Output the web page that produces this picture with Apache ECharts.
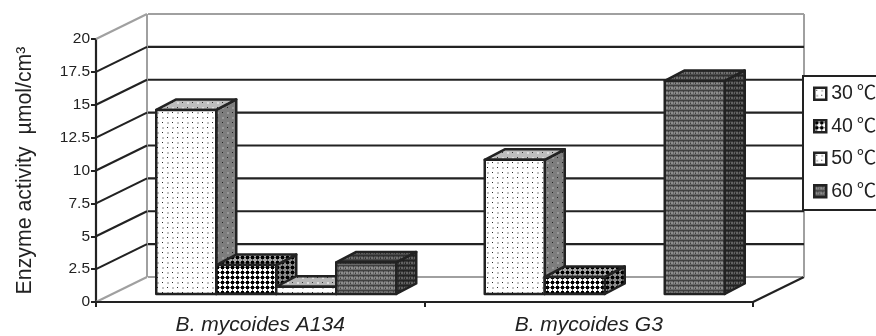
<!DOCTYPE html>
<html>
<head>
<meta charset="utf-8">
<style>
  html, body { margin: 0; padding: 0; background: #fff; overflow: hidden; }
  #chart { width: 876px; height: 336px; }
</style>
<script src="https://cdn.jsdelivr.net/npm/echarts@6/dist/echarts.min.js"></script>
</head>
<body>
<div id="chart"></div>
<script>
// data
var categories = ['B. mycoides A134', 'B. mycoides G3'];
var tempNames = ['30\u2009\u2103', '40\u2009\u2103', '50\u2009\u2103', '60\u2009\u2103'];
var values30 = [14.0, 10.2];
var values40 = [2.2, 1.3];
var values50 = [0.55, null];
var values60 = [2.4, 16.2];
var yTicks = [0, 2.5, 5, 7.5, 10, 12.5, 15, 17.5, 20];

var INK = '#222';
var WALL = '#a0a0a0';

// depth of the fake 3d box
var wallDx = 51, wallDy = -25;
var barDx = 20, barDy = -10.5;
var frontDx = 16, frontDy = -8;
var barW = 60;

// small tiled fill, dots = [x, y, w, h, colour]
function tile(size, bg, dots) {
    var c = document.createElement('canvas');
    c.width = size; c.height = size;
    var g = c.getContext('2d');
    g.fillStyle = bg;
    g.fillRect(0, 0, size, size);
    dots.forEach(function (d) {
        g.fillStyle = d[4];
        g.fillRect(d[0], d[1], d[2], d[3]);
    });
    return { image: c, repeat: 'repeat' };
}
function speckle(bg, dark, soft) {
    return tile(10, bg, [[2, 2, 1, 1, dark], [7, 7, 1, 1, dark], [7, 2, 2, 2, soft], [2, 7, 2, 2, soft]]);
}
function check(bg, fg, mid) {
    return tile(5, bg, [[1, 1, 3, 3, fg], [2, 0, 1, 1, mid], [2, 4, 1, 1, mid], [0, 2, 1, 1, mid], [4, 2, 1, 1, mid]]);
}
function mottled(bg, light, dark) {
    return tile(5, bg, [[0, 0, 5, 1, dark], [1, 2, 2, 2, light], [4, 2, 1, 2, light], [0, 3, 1, 1, dark], [3, 1, 1, 1, dark]]);
}

var faces = [
    { front: speckle('#fff', '#222', '#c4c4c4'), side: speckle('#7d7d7d', '#222', '#999'), top: speckle('#bdbdbd', '#333', '#ddd') },
    { front: check('#fff', '#000', '#555'), side: check('#8a8a8a', '#000', '#444'), top: check('#a8a8a8', '#000', '#555') },
    { front: speckle('#fff', '#222', '#c4c4c4'), side: speckle('#7d7d7d', '#222', '#999'), top: speckle('#b5b5b5', '#333', '#ddd') },
    { front: mottled('#686868', '#8e8e8e', '#404040'), side: mottled('#383838', '#626262', '#222'), top: mottled('#4a4a4a', '#707070', '#303030') }
];

function wallItem(params, api) {
    var v = api.value(0);
    var cs = params.coordSys;
    var p = api.coord([0, v]);
    var gray = v === 0 || v === 20;
    var color = gray ? WALL : INK;
    var backX = cs.x + wallDx;
    var backY = p[1] + wallDy;
    var kids = [
        { type: 'line', shape: { x1: cs.x, y1: p[1], x2: backX, y2: backY }, style: { stroke: color, lineWidth: 2.2 } },
        { type: 'line', shape: { x1: backX + 1, y1: backY, x2: cs.x + cs.width + wallDx, y2: backY }, style: { stroke: color, lineWidth: 2.2 } }
    ];
    if (v === 0) {
        // floor edge on the right and the two upright wall edges
        kids.push({ type: 'line', shape: { x1: cs.x + cs.width, y1: p[1], x2: cs.x + cs.width + wallDx, y2: backY }, style: { stroke: INK, lineWidth: 2.2 } });
        kids.push({ type: 'line', shape: { x1: backX, y1: cs.y + wallDy, x2: backX, y2: backY }, style: { stroke: WALL, lineWidth: 2 } });
        kids.push({ type: 'line', shape: { x1: cs.x + cs.width + wallDx, y1: cs.y + wallDy, x2: cs.x + cs.width + wallDx, y2: backY }, style: { stroke: WALL, lineWidth: 2 } });
    }
    return { type: 'group', children: kids };
}

function barItem(seriesIndex) {
    return function (params, api) {
        var idx = api.value(0);
        var top = api.coord([idx, api.value(1)]);
        var base = api.coord([idx, 0]);
        var x0 = top[0] - 2 * barW + frontDx + seriesIndex * barW;
        var x1 = x0 + barW;
        var y0 = base[1] + frontDy;
        var y1 = top[1] + frontDy;
        var f = faces[seriesIndex];
        var line = { stroke: INK, lineWidth: 2.5, lineJoin: 'round' };
        function poly(points, fill) {
            return { type: 'polygon', shape: { points: points }, style: Object.assign({ fill: fill }, line) };
        }
        return {
            type: 'group',
            children: [
                poly([[x1, y0], [x1 + barDx, y0 + barDy], [x1 + barDx, y1 + barDy], [x1, y1]], f.side),
                poly([[x0, y1], [x1, y1], [x1 + barDx, y1 + barDy], [x0 + barDx, y1 + barDy]], f.top),
                poly([[x0, y0], [x1, y0], [x1, y1], [x0, y1]], f.front)
            ]
        };
    };
}

function barSeries(k, vals) {
    var rows = [];
    vals.forEach(function (v, i) {
        if (v !== null) rows.push([i, v]);
    });
    return {
        name: tempNames[k],
        type: 'custom',
        z: 3 + k,
        renderItem: barItem(k),
        encode: { x: 0, y: 1 },
        data: rows
    };
}

var chart = echarts.init(document.getElementById('chart'));
chart.setOption({
    animation: false,
    backgroundColor: '#fff',
    textStyle: { fontFamily: '"Liberation Sans", Arial, sans-serif', color: INK },
    grid: { left: 96, top: 39, width: 657, height: 263 },
    legend: {
        left: 803,
        top: 76,
        orient: 'vertical',
        selectedMode: false,
        itemWidth: 12,
        itemHeight: 12,
        itemGap: 13,
        padding: [8, 30, 9, 10],
        backgroundColor: '#fff',
        borderColor: INK,
        borderWidth: 2,
        z: 20,
        textStyle: { fontSize: 19.5, color: INK, padding: [0, 0, 0, 0], fontFamily: '"Liberation Sans", "Noto Sans CJK SC", sans-serif' },
        data: tempNames.map(function (n, i) {
            return { name: n, icon: 'rect', itemStyle: { color: faces[i].front, borderColor: INK, borderWidth: 2.5 } };
        })
    },
    xAxis: {
        type: 'category',
        data: categories,
        z: 2,
        axisLine: { lineStyle: { color: INK, width: 2.2 } },
        axisTick: { show: true, length: 5, alignWithLabel: false, lineStyle: { color: INK, width: 2 } },
        axisLabel: { fontSize: 21, fontStyle: 'italic', color: INK, margin: 13 }
    },
    yAxis: {
        type: 'value',
        min: 0,
        max: 20,
        interval: 2.5,
        name: 'Enzyme activity  \u00b5mol/cm\u00b3',
        nameLocation: 'middle',
        nameGap: 60,
        nameTextStyle: { fontSize: 21.3, color: INK },
        splitLine: { show: false },
        axisLine: { show: true, lineStyle: { color: INK, width: 2.2 } },
        axisTick: { show: true, length: 5, lineStyle: { color: INK, width: 2 } },
        axisLabel: { fontSize: 15.5, color: INK, margin: 6 }
    },
    series: [
        {
            name: 'walls',
            type: 'custom',
            z: 1,
            renderItem: wallItem,
            encode: { y: 0 },
            data: yTicks.map(function (v) { return [v]; })
        },
        barSeries(0, values30),
        barSeries(1, values40),
        barSeries(2, values50),
        barSeries(3, values60)
    ]
});
</script>
</body>
</html>
